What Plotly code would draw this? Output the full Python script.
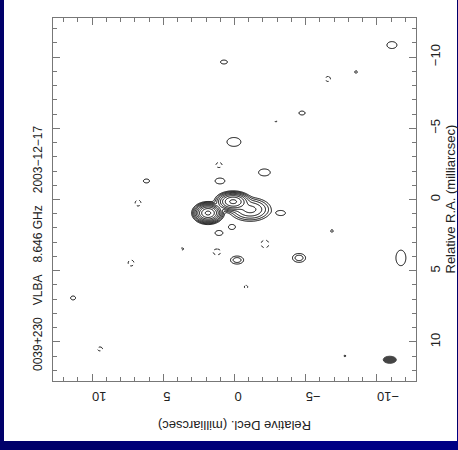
import numpy as np
import plotly.graph_objects as go

# ---- source model: Gaussian components (Decl., R.A. in mas) ----
comp_decl = [1.86, 0.10, -1.10]
comp_ra = [0.95, 0.15, 0.70]
comp_peak = [300.0, 150.0, 20.0]
comp_sig_decl = [0.34, 0.42, 0.60]
comp_sig_ra = [0.24, 0.24, 0.34]

# ---- isolated noise patches (positive ones give solid, negative dotted contours) ----
noise_decl = [-11.05, 0.74, -8.53, -6.56, -4.74, -2.91, 0.04, 1.09, 6.18, 1.02,
              -2.10, -3.26, 0.18, 1.09, -2.14, 3.68, 1.23, -0.18, -4.53, -0.81,
              -6.84, -11.68, 6.77, 7.26, 11.33, 9.44, -7.75]
noise_ra = [-10.84, -9.65, -8.95, -8.46, -6.07, -5.50, -4.04, -2.42, -1.30, -1.30,
            -1.90, 0.95, 1.93, 2.35, 3.12, 3.47, 3.68, 4.25, 4.10, 6.14,
            2.21, 4.10, 0.25, 4.46, 6.91, 10.49, 10.98]
noise_peak = [1.6, 1.6, 1.3, -1.6, 1.6, -1.3, 1.6, -1.6, 1.6, 1.6,
              1.6, 1.6, 1.6, 1.6, -1.6, -1.4, -1.6, 3.0, 3.0, -1.4,
              1.3, 1.6, -1.6, -1.6, 1.6, -1.6, 1.3]
noise_sig_decl = [0.36, 0.25, 0.12, 0.18, 0.22, 0.08, 0.50, 0.22, 0.22, 0.35,
                  0.42, 0.32, 0.25, 0.28, 0.28, 0.14, 0.28, 0.31, 0.31, 0.14,
                  0.12, 0.36, 0.21, 0.21, 0.18, 0.18, 0.08]
noise_sig_ra = [0.25, 0.14, 0.12, 0.18, 0.14, 0.08, 0.32, 0.18, 0.14, 0.21,
                0.25, 0.18, 0.18, 0.18, 0.28, 0.08, 0.21, 0.19, 0.21, 0.14,
                0.12, 0.56, 0.21, 0.21, 0.14, 0.14, 0.08]

# restoring beam (FWHM, mas) and its plotted position
beam_decl = -10.9
beam_ra = 11.25
beam_fwhm_decl = 0.92
beam_fwhm_ra = 0.50

lowest_level = 1.0
n_levels = 9

# tick labels
tick_vals = [-10, -5, 0, 5, 10]
tick_text = ["\u221210", "\u22125", "0", "5", "10"]

title_text = "0039+230\u2002\u2002VLBA\u2002\u20028.646 GHz\u2002\u20022003\u221212\u221217"

# ---- build brightness grid ----
step = 0.04
lim = 12.8
d = np.arange(-lim, lim + step / 2, step)
r = np.arange(-lim, lim + step / 2, step)
D, R = np.meshgrid(d, r)
img = np.zeros_like(D)
for x0, y0, a, sx, sy in zip(comp_decl + noise_decl, comp_ra + noise_ra,
                             comp_peak + noise_peak,
                             comp_sig_decl + noise_sig_decl,
                             comp_sig_ra + noise_sig_ra):
    img += a * np.exp(-0.5 * (((D - x0) / sx) ** 2 + ((R - y0) / sy) ** 2))

# positive contours on a log2 scale so that levels double each step
pos = np.log2(np.clip(img, 1e-6, None) / lowest_level).astype(np.float32)
neg = (-img).astype(np.float32)

fig = go.Figure()
fig.add_trace(go.Contour(
    x=d, y=r, z=pos,
    contours=dict(start=0, end=n_levels - 1, size=1, coloring="none"),
    line=dict(color="black", width=1, smoothing=1),
    showscale=False, hoverinfo="skip"))
fig.add_trace(go.Contour(
    x=d, y=r, z=neg,
    contours=dict(start=lowest_level, end=lowest_level, size=1, coloring="none"),
    line=dict(color="black", width=1, dash="dot", smoothing=1),
    showscale=False, hoverinfo="skip"))

# beam ellipse
fig.add_shape(type="circle", xref="x", yref="y",
              x0=beam_decl - beam_fwhm_decl / 2, x1=beam_decl + beam_fwhm_decl / 2,
              y0=beam_ra - beam_fwhm_ra / 2, y1=beam_ra + beam_fwhm_ra / 2,
              fillcolor="#444444", line=dict(color="#444444", width=1))

W, H = 458, 450
L, R_, T, B = 53, 42, 18, 69
pw, ph = W - L - R_, H - T - B


def px(xp):
    return (xp - L) / pw


def py(yp):
    return (H - B - yp) / ph


# slide background: navy frame with white panel, lighter navy toward the lower right
fig.add_shape(type="rect", xref="paper", yref="paper", layer="below",
              x0=px(120), x1=px(470), y0=py(460), y1=py(430),
              fillcolor="#000078", line=dict(width=0))
fig.add_shape(type="rect", xref="paper", yref="paper", layer="below",
              x0=px(300), x1=px(470), y0=py(460), y1=py(430),
              fillcolor="#000084", line=dict(width=0))
fig.add_shape(type="rect", xref="paper", yref="paper", layer="below",
              x0=px(4), x1=px(457), y0=py(441), y1=py(-5),
              fillcolor="white", line=dict(width=0))

axis_font = dict(family="Liberation Sans, Arial, sans-serif", size=13, color="#222")
title_font = dict(family="Liberation Sans, Arial, sans-serif", size=12, color="#222")
common = dict(showline=True, linecolor="#777", linewidth=1, mirror="ticks",
              ticks="inside", ticklen=7, tickcolor="#777", tickwidth=1,
              tickvals=tick_vals, ticktext=tick_text, showgrid=False, zeroline=False,
              tickfont=axis_font, ticklabelstandoff=7,
              minor=dict(ticks="inside", dtick=1, ticklen=4, tickcolor="#777", tickwidth=1,
                         showgrid=False))

fig.update_layout(
    width=W, height=H, margin=dict(l=L, r=R_, t=T, b=B),
    paper_bgcolor="#00006a", plot_bgcolor="white", showlegend=False,
    xaxis=dict(range=[12.74, -12.74], tickangle=180, **common),
    yaxis=dict(range=[12.74, -12.74], side="right", tickangle=-90, **common),
)

fig.add_annotation(xref="paper", yref="paper", x=0.5, y=py(425),
                   xanchor="center", yanchor="middle",
                   text="Relative Decl. (milliarcsec)", textangle=180, showarrow=False,
                   font=axis_font)
fig.add_annotation(xref="paper", yref="paper", x=px(450), y=0.5,
                   xanchor="center", yanchor="middle",
                   text="Relative R.A. (milliarcsec)", textangle=-90, showarrow=False,
                   font=axis_font)
fig.add_annotation(xref="paper", yref="paper", x=px(38), y=py(373),
                   xanchor="center", yanchor="bottom",
                   text=title_text, textangle=-90, showarrow=False,
                   font=title_font)

fig.write_html("out.html")
